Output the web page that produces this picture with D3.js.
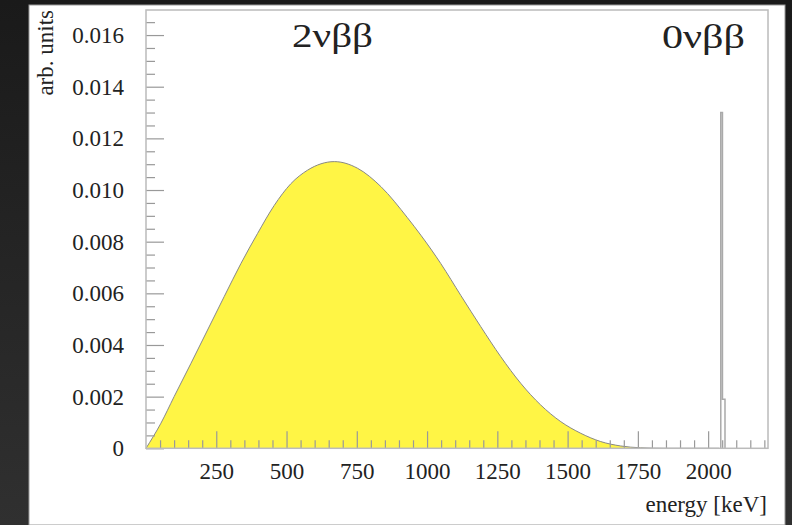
<!DOCTYPE html>
<html>
<head>
<meta charset="utf-8">
<script src="https://cdn.jsdelivr.net/npm/d3@7"></script>
<style>
  html, body { margin: 0; padding: 0; background: #222; }
  svg { display: block; }
  text { font-family: "Liberation Serif", "DejaVu Serif", serif; fill: #222; }
</style>
</head>
<body>
<div id="chart"></div>
<script>
// 2nu double beta spectrum (keV, arb. units)
const energyKeV = [0, 53, 100, 160, 219, 278, 338, 397, 456, 515, 575, 670, 753, 836, 930,
  978, 1049, 1120, 1191, 1262, 1333, 1404, 1476, 1547, 1618, 1689, 1760, 1850, 2039];
const spectrum2nu = [0, 0.00097, 0.0020, 0.00329, 0.00458, 0.00587, 0.00716, 0.00832, 0.00940,
  0.01024, 0.01077, 0.0111, 0.01084, 0.01013, 0.00893, 0.00825, 0.00715, 0.00592, 0.00471,
  0.00355, 0.00252, 0.00168, 0.00103, 0.00058, 0.00026, 0.00009, 0.00002, 0, 0];

// 0nu peak, drawn as histogram bins
const peakEdges = [2045, 2051, 2060];
const peakCounts = [0.0130, 0.0019];

const xMajor = [250, 500, 750, 1000, 1250, 1500, 1750, 2000];
const yMajor = [0, 0.002, 0.004, 0.006, 0.008, 0.010, 0.012, 0.014, 0.016];

const width = 792, height = 525;
const frame = { left: 146, right: 768, top: 10, bottom: 448.3 };

const svg = d3.select("#chart").append("svg")
  .attr("width", width)
  .attr("height", height);

// dark surround
const grad = svg.append("defs").append("linearGradient")
  .attr("id", "bg").attr("x1", 0).attr("y1", 0).attr("x2", 0).attr("y2", 1);
grad.append("stop").attr("offset", "0%").attr("stop-color", "#1a1a1a");
grad.append("stop").attr("offset", "100%").attr("stop-color", "#303030");
svg.append("rect").attr("width", width).attr("height", height).attr("fill", "url(#bg)");

// white canvas
svg.append("rect")
  .attr("x", 29).attr("y", 5).attr("width", 756).attr("height", 520)
  .attr("fill", "#fff").attr("stroke", "#999").attr("stroke-width", 1);

const x = d3.scaleLinear().domain([0, 2213]).range([frame.left, frame.right]);
const y = d3.scaleLinear().domain([0, 0.01697]).range([frame.bottom, frame.top]);

// 2nu spectrum
const pts = energyKeV.map((e, i) => [e, spectrum2nu[i]]);
const area = d3.area()
  .x(d => x(d[0])).y0(y(0)).y1(d => y(d[1]))
  .curve(d3.curveMonotoneX);
const line = d3.line()
  .x(d => x(d[0])).y(d => y(d[1]))
  .curve(d3.curveMonotoneX);

svg.append("path").datum(pts)
  .attr("d", area)
  .attr("fill", "#fff545");
svg.append("path").datum(pts)
  .attr("d", line)
  .attr("fill", "none")
  .attr("stroke", "#888")
  .attr("stroke-width", 1);

// 0nu peak as a step outline
let peakPath = "M" + x(peakEdges[0]) + "," + y(0);
peakCounts.forEach((c, i) => {
  peakPath += "L" + x(peakEdges[i]) + "," + y(c) + "L" + x(peakEdges[i + 1]) + "," + y(c);
});
peakPath += "L" + x(peakEdges[peakEdges.length - 1]) + "," + y(0);
svg.append("path")
  .attr("d", peakPath)
  .attr("fill", "none")
  .attr("stroke", "#aaa")
  .attr("stroke-width", 1.5);

// axes
const xMinor = d3.range(50, 2201, 50).filter(v => !xMajor.includes(v));
const yMinor = d3.range(0.0005, 0.01651, 0.0005).filter(v => !yMajor.some(m => Math.abs(m - v) < 1e-9));

const gx = svg.append("g").attr("transform", `translate(0,${frame.bottom})`);
gx.append("g").call(d3.axisBottom(x).tickValues(xMinor).tickSize(-8).tickFormat(""));
gx.append("g").call(d3.axisBottom(x).tickValues(xMajor).tickSize(-17).tickPadding(14).tickFormat(d3.format("d")));

const gy = svg.append("g").attr("transform", `translate(${frame.left},0)`);
gy.append("g").call(d3.axisLeft(y).tickValues(yMinor).tickSize(-9).tickFormat(""));
gy.append("g").call(d3.axisLeft(y).tickValues(yMajor).tickSize(-18).tickPadding(22)
  .tickFormat(d => d === 0 ? "0" : d3.format(".3f")(d)));

svg.selectAll(".domain").remove();
svg.selectAll(".tick line").attr("stroke", "#999").attr("stroke-width", 1.2);
svg.selectAll(".tick text")
  .style("font-family", '"Liberation Serif", serif')
  .style("font-size", "23px")
  .attr("fill", "#222");

// frame
svg.append("rect")
  .attr("x", frame.left).attr("y", frame.top)
  .attr("width", frame.right - frame.left).attr("height", frame.bottom - frame.top)
  .attr("fill", "none").attr("stroke", "#bbb").attr("stroke-width", 1.5);

// process labels
svg.append("text")
  .attr("x", 292).attr("y", 47)
  .attr("textLength", 81).attr("lengthAdjust", "spacingAndGlyphs")
  .style("font-size", "34px")
  .text("2νββ");
svg.append("text")
  .attr("x", 662).attr("y", 48)
  .attr("textLength", 83).attr("lengthAdjust", "spacingAndGlyphs")
  .style("font-size", "34px")
  .text("0νββ");

svg.append("text")
  .attr("transform", "translate(53,10) rotate(-90)")
  .attr("text-anchor", "end")
  .style("font-size", "23px")
  .text("arb. units");

svg.append("text")
  .attr("x", 767).attr("y", 512)
  .attr("text-anchor", "end")
  .style("font-size", "23px")
  .text("energy [keV]");
</script>
</body>
</html>
